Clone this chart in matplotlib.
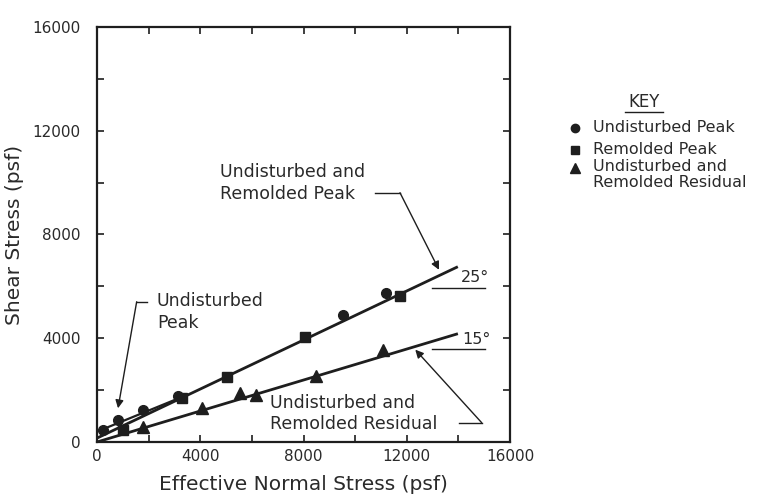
import matplotlib
matplotlib.use('Agg')
import matplotlib.pyplot as plt
from matplotlib.lines import Line2D

# measured points (psf)
undist_peak_x = [220, 820, 1800, 3150, 9530, 11200]
undist_peak_y = [460, 850, 1230, 1770, 4890, 5750]
remold_peak_x = [1000, 3300, 5050, 8060, 11740]
remold_peak_y = [470, 1700, 2500, 4040, 5620]
resid_x = [1790, 4050, 5540, 6160, 8480, 11080]
resid_y = [590, 1300, 1880, 1810, 2540, 3540]

# strength envelopes
peak_line_x = [0, 13930]
peak_line_y = [150, 6735]
resid_line_x = [0, 13930]
resid_line_y = [0, 4160]
undist_env_x = [0, 3300]
undist_env_y = [400, 1740]

ticks = list(range(0, 16001, 2000))
tick_labels = [str(t) if t % 4000 == 0 else '' for t in ticks]

key_labels = ['Undisturbed Peak', 'Remolded Peak', 'Undisturbed and\nRemolded Residual']
key_markers = ['o', 's', '^']

ink = '#1e1e1e'
txt = '#2a2a2a'

fig = plt.figure(figsize=(7.58, 4.98), dpi=100)
ax = fig.add_axes([97 / 758, 1 - 442 / 498, 413 / 758, 415 / 498])

ax.plot(peak_line_x, peak_line_y, color=ink, lw=2)
ax.plot(resid_line_x, resid_line_y, color=ink, lw=2)
ax.plot(undist_env_x, undist_env_y, color=ink, lw=1.6)

ax.plot(undist_peak_x, undist_peak_y, 'o', color=ink, ms=7, ls='none')
ax.plot(remold_peak_x, remold_peak_y, 's', color=ink, ms=7, ls='none')
ax.plot(resid_x, resid_y, '^', color=ink, ms=8, ls='none')

ax.set_xlim(0, 16000)
ax.set_ylim(0, 16000)
ax.set_xticks(ticks)
ax.set_xticklabels(tick_labels)
ax.set_yticks(ticks)
ax.set_yticklabels(tick_labels)
ax.tick_params(direction='in', top=True, right=True, length=5, width=1.2,
               labelsize=11, colors=ink, labelcolor=txt)
ax.tick_params(axis='y', pad=12)
ax.tick_params(axis='x', pad=5)
for s in ax.spines.values():
    s.set_linewidth(1.6)
    s.set_color(ink)

ax.set_xlabel('Effective Normal Stress (psf)', fontsize=14.5, color=txt, labelpad=8)
ax.set_ylabel('Shear Stress (psf)', fontsize=14.5, color=txt, labelpad=6)

arrow = dict(arrowstyle='-|>', color=ink, lw=1.0, mutation_scale=12,
             shrinkA=0, shrinkB=0)

# upper annotation
ax.text(4765, 9990, 'Undisturbed and\nRemolded Peak', fontsize=12.5, color=txt,
        va='center', ha='left', linespacing=1.25)
ax.plot([10770, 11738], [9611, 9611], color=ink, lw=1.0)
ax.annotate('', xy=(13250, 6640), xytext=(11738, 9611), arrowprops=arrow)

# undisturbed peak annotation
ax.text(2324, 5010, 'Undisturbed\nPeak', fontsize=12.5, color=txt,
        va='center', ha='left', linespacing=1.25)
ax.plot([1924, 1537], [5408, 5408], color=ink, lw=1.0)
ax.annotate('', xy=(814, 1300), xytext=(1537, 5408), arrowprops=arrow)

# residual annotation
ax.text(6700, 1100, 'Undisturbed and\nRemolded Residual', fontsize=12.5, color=txt,
        va='center', ha='left', linespacing=1.25)
ax.plot([14024, 14903], [744, 744], color=ink, lw=1.0)
ax.annotate('', xy=(12330, 3560), xytext=(14903, 744), arrowprops=arrow)

# angle marks
ax.text(14650, 6360, '25°', fontsize=11.5, color=txt, ha='center', va='center')
ax.plot([12978, 15031], [5937, 5937], color=ink, lw=1.0, clip_on=False)
ax.text(14710, 3970, '15°', fontsize=11.5, color=txt, ha='center', va='center')
ax.plot([12978, 15031], [3574, 3574], color=ink, lw=1.0, clip_on=False)


# key, placed in figure pixels
def fx(px):
    return px / 758


def fy(py):
    return 1 - py / 498


fig.text(fx(644), fy(102), 'KEY', fontsize=12, color=txt, ha='center', va='center')
fig.add_artist(Line2D([fx(625), fx(663)], [fy(112), fy(112)], color=ink, lw=1.0))
key_rows = [128, 150, 168]
key_sizes = [6, 6, 7]
for mk, lab, py, ms in zip(key_markers, key_labels, key_rows, key_sizes):
    fig.add_artist(Line2D([fx(575)], [fy(py)], marker=mk, color=ink, ms=ms, ls='none'))
    if '\n' in lab:
        fig.text(fx(593), fy(py - 9), lab, fontsize=11.5, color=txt, ha='left',
                 va='top', linespacing=1.1)
    else:
        fig.text(fx(593), fy(py), lab, fontsize=11.5, color=txt, ha='left',
                 va='center')

fig.savefig('out.png', dpi=100)
